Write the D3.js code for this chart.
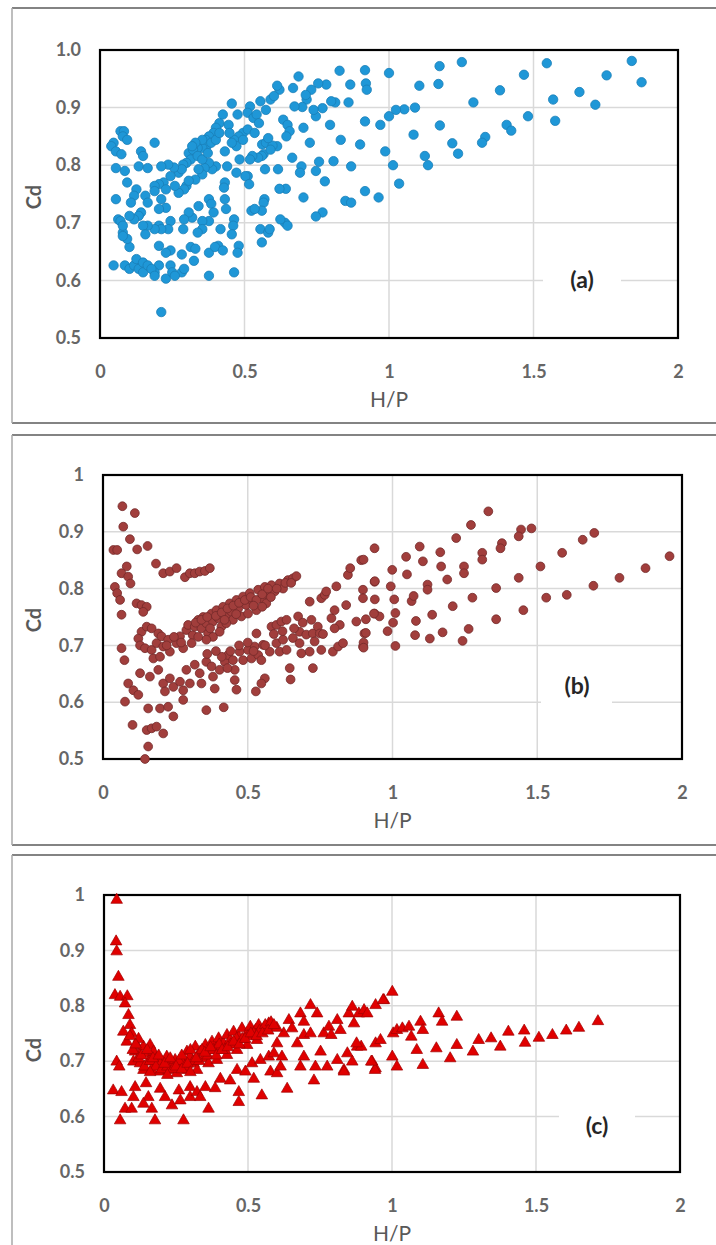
<!DOCTYPE html>
<html>
<head>
<meta charset="utf-8">
<script src="https://cdn.jsdelivr.net/npm/d3@7"></script>
<style>
  body { margin: 0; background: #fff; }
  svg { display: block; }
</style>
</head>
<body>
<div id="chart"></div>
<script>
// valeurs : H/P en x, Cd en y
var xTicks = [0, 0.5, 1, 1.5, 2];
var yTicks = [0.5, 0.6, 0.7, 0.8, 0.9, 1.0];
var panelLabels = ["(a)", "(b)", "(c)"];
var xTitle = "H/P";
var yTitle = "Cd";

var seriesA = [
  [1.84,0.981],[1.874,0.944],[1.753,0.956],[1.714,0.905],[1.659,0.927],[1.546,0.977],[1.568,0.914],[1.575,0.877],
  [1.467,0.957],[1.481,0.885],[1.384,0.93],[1.407,0.87],[1.423,0.86],[1.333,0.849],[1.322,0.839],[1.292,0.909],
  [1.252,0.979],[1.219,0.838],[1.239,0.82],[1.175,0.972],[1.171,0.941],[1.176,0.869],[1.135,0.80],[1.124,0.816],
  [1.105,0.938],[1.09,0.90],[1.085,0.853],[1.053,0.897],[1.024,0.896],[1.0,0.885],[0.97,0.87],[1.0,0.96],
  [0.987,0.824],[1.014,0.80],[1.035,0.768],[0.964,0.744],[0.917,0.755],[0.917,0.965],[0.92,0.942],[0.923,0.931],
  [0.917,0.876],[0.9,0.836],[0.869,0.798],[0.866,0.94],[0.86,0.909],[0.829,0.964],[0.833,0.844],[0.849,0.738],
  [0.869,0.735],[0.814,0.909],[0.80,0.911],[0.796,0.87],[0.808,0.807],[0.783,0.94],[0.755,0.942],[0.77,0.899],
  [0.747,0.885],[0.778,0.772],[0.758,0.806],[0.747,0.79],[0.77,0.718],[0.747,0.711],[0.726,0.839],[0.715,0.914],
  [0.731,0.931],[0.739,0.896],[0.712,0.922],[0.687,0.954],[0.70,0.901],[0.668,0.934],[0.673,0.902],[0.704,0.865],
  [0.697,0.798],[0.692,0.787],[0.704,0.744],[0.665,0.813],[0.643,0.759],[0.621,0.759],[0.616,0.793],[0.64,0.70],
  [0.624,0.706],[0.649,0.695],[0.634,0.879],[0.649,0.87],[0.656,0.859],[0.645,0.85],[0.613,0.833],[0.621,0.931],
  [0.613,0.938],[0.59,0.914],[0.602,0.92],[0.574,0.896],[0.555,0.911],[0.561,0.836],[0.574,0.839],[0.597,0.834],
  [0.571,0.793],[0.566,0.819],[0.56,0.816],[0.547,0.813],[0.569,0.741],[0.566,0.735],[0.56,0.721],[0.555,0.689],
  [0.56,0.666],[0.582,0.683],[0.587,0.689],[0.524,0.721],[0.535,0.724],[0.519,0.902],[0.511,0.891],[0.531,0.882],
  [0.542,0.888],[0.527,0.816],[0.519,0.81],[0.511,0.781],[0.503,0.781],[0.516,0.767],[0.476,0.888],[0.495,0.856],
  [0.48,0.85],[0.483,0.81],[0.464,0.844],[0.456,0.907],[0.472,0.833],[0.472,0.787],[0.48,0.66],[0.464,0.706],
  [0.461,0.695],[0.456,0.68],[0.464,0.614],[0.432,0.824],[0.44,0.798],[0.432,0.77],[0.429,0.761],[0.436,0.724],
  [0.417,0.689],[0.409,0.66],[0.425,0.888],[0.413,0.873],[0.401,0.865],[0.393,0.856],[0.377,0.85],[0.366,0.844],
  [0.369,0.833],[0.354,0.83],[0.338,0.83],[0.401,0.798],[0.388,0.793],[0.377,0.804],[0.362,0.795],[0.354,0.784],
  [0.341,0.793],[0.33,0.775],[0.377,0.741],[0.385,0.733],[0.393,0.718],[0.377,0.703],[0.354,0.703],[0.341,0.729],
  [0.377,0.648],[0.398,0.658],[0.377,0.608],[0.319,0.709],[0.307,0.718],[0.314,0.658],[0.33,0.655],[0.325,0.634],
  [0.291,0.706],[0.288,0.689],[0.283,0.614],[0.291,0.62],[0.307,0.821],[0.322,0.827],[0.314,0.81],[0.299,0.804],
  [0.288,0.801],[0.272,0.787],[0.283,0.793],[0.299,0.764],[0.307,0.773],[0.291,0.758],[0.272,0.752],[0.259,0.764],
  [0.256,0.796],[0.244,0.781],[0.236,0.801],[0.212,0.798],[0.22,0.77],[0.204,0.767],[0.189,0.764],[0.189,0.755],
  [0.228,0.758],[0.212,0.741],[0.228,0.726],[0.204,0.724],[0.244,0.703],[0.236,0.689],[0.204,0.695],[0.212,0.689],
  [0.189,0.689],[0.165,0.695],[0.204,0.66],[0.244,0.652],[0.228,0.648],[0.204,0.626],[0.189,0.614],[0.228,0.603],
  [0.244,0.626],[0.212,0.545],[0.189,0.839],[0.142,0.824],[0.149,0.816],[0.134,0.798],[0.165,0.795],[0.126,0.758],
  [0.157,0.747],[0.165,0.735],[0.142,0.718],[0.134,0.712],[0.118,0.747],[0.107,0.735],[0.118,0.706],[0.102,0.712],
  [0.149,0.695],[0.157,0.68],[0.102,0.658],[0.094,0.672],[0.079,0.683],[0.063,0.706],[0.071,0.703],[0.079,0.695],
  [0.079,0.677],[0.055,0.741],[0.094,0.77],[0.086,0.79],[0.055,0.795],[0.047,0.839],[0.039,0.833],[0.055,0.824],
  [0.074,0.819],[0.071,0.859],[0.083,0.859],[0.079,0.85],[0.094,0.844],[0.047,0.626],[0.086,0.626],[0.102,0.62],
  [0.118,0.626],[0.134,0.62],[0.126,0.637],[0.149,0.631],[0.149,0.614],[0.165,0.626],[0.178,0.62],[0.189,0.608],
  [0.25,0.614],[0.259,0.608],[0.283,0.645],[0.354,0.689],[0.338,0.683],[0.432,0.741],[0.425,0.652],[0.476,0.648],
  [0.354,0.844],[0.33,0.839],[0.319,0.833],[0.338,0.816],[0.354,0.81],[0.373,0.821],[0.385,0.839],[0.401,0.844],
  [0.413,0.856],[0.445,0.87],[0.448,0.856],[0.456,0.839],[0.495,0.844],[0.511,0.862],[0.535,0.856],[0.55,0.873],
  [0.582,0.847],[0.59,0.827]
];

var seriesB = [
  [0.067,0.945],[0.11,0.933],[0.07,0.909],[0.093,0.887],[0.118,0.869],[0.154,0.875],[0.036,0.868],[0.049,0.868],
  [0.082,0.839],[0.064,0.827],[0.087,0.821],[0.095,0.809],[0.041,0.803],[0.049,0.792],[0.059,0.78],[0.064,0.754],
  [0.116,0.774],[0.133,0.771],[0.151,0.768],[0.139,0.759],[0.183,0.844],[0.208,0.827],[0.231,0.83],[0.254,0.836],
  [0.283,0.82],[0.3,0.827],[0.317,0.827],[0.334,0.83],[0.352,0.831],[0.369,0.836],[0.064,0.695],[0.074,0.674],
  [0.128,0.651],[0.162,0.645],[0.087,0.633],[0.105,0.621],[0.122,0.613],[0.076,0.601],[0.156,0.589],[0.102,0.56],
  [0.151,0.551],[0.168,0.554],[0.185,0.557],[0.208,0.545],[0.156,0.522],[0.145,0.5],[0.197,0.589],[0.225,0.592],
  [0.243,0.575],[0.357,0.586],[0.417,0.591],
  [0.133,0.724],[0.151,0.733],[0.168,0.73],[0.191,0.721],[0.122,0.712],[0.128,0.7],[0.145,0.695],[0.168,0.692],
  [0.185,0.704],[0.202,0.716],[0.208,0.698],[0.225,0.71],[0.231,0.689],[0.254,0.704],[0.266,0.716],[0.277,0.695],
  [0.288,0.727],[0.294,0.736],[0.31,0.718],[0.317,0.733],[0.329,0.745],[0.34,0.73],[0.346,0.75],[0.357,0.739],
  [0.363,0.721],[0.375,0.756],[0.38,0.742],[0.392,0.762],[0.398,0.748],[0.409,0.733],[0.415,0.768],[0.424,0.753],
  [0.438,0.774],[0.444,0.759],[0.449,0.745],[0.461,0.78],[0.467,0.765],[0.478,0.751],[0.484,0.786],[0.495,0.771],
  [0.501,0.756],[0.507,0.792],[0.518,0.777],[0.53,0.762],[0.536,0.798],[0.547,0.783],[0.559,0.803],[0.57,0.789],
  [0.582,0.806],[0.593,0.795],[0.61,0.809],[0.622,0.8],[0.639,0.815],[0.656,0.818],[0.668,0.822],[0.564,0.774],
  [0.55,0.768],[0.426,0.739],[0.403,0.724],[0.38,0.715],[0.357,0.71],[0.329,0.715],[0.306,0.704],
  [0.32,0.74],[0.34,0.745],[0.36,0.75],[0.39,0.752],[0.41,0.758],[0.43,0.765],[0.45,0.77],[0.47,0.775],
  [0.49,0.78],[0.51,0.785],[0.53,0.78],[0.55,0.79],[0.57,0.8],[0.6,0.8],[0.63,0.81],[0.65,0.81],
  [0.37,0.73],[0.42,0.745],[0.46,0.755],[0.52,0.77],[0.58,0.785],[0.27,0.705],[0.245,0.715],[0.22,0.7],
  [0.174,0.677],[0.197,0.68],[0.191,0.657],[0.208,0.633],[0.231,0.642],[0.214,0.619],[0.243,0.627],[0.266,0.636],
  [0.277,0.621],[0.277,0.604],[0.288,0.657],[0.3,0.633],[0.317,0.666],[0.334,0.651],[0.34,0.633],[0.357,0.671],
  [0.375,0.663],[0.38,0.645],[0.386,0.624],[0.403,0.657],[0.421,0.671],[0.432,0.683],[0.449,0.674],[0.455,0.657],
  [0.455,0.639],[0.461,0.622],[0.472,0.689],[0.484,0.674],[0.501,0.692],[0.513,0.677],[0.524,0.698],[0.53,0.721],
  [0.536,0.683],[0.547,0.674],[0.553,0.701],[0.559,0.642],[0.547,0.633],[0.528,0.619],[0.576,0.689],[0.582,0.733],
  [0.599,0.736],[0.616,0.742],[0.634,0.745],[0.599,0.704],[0.61,0.689],[0.622,0.71],[0.634,0.692],[0.645,0.66],
  [0.648,0.64],[0.656,0.713],[0.674,0.751],[0.679,0.724],[0.679,0.704],[0.685,0.686],[0.702,0.719],[0.714,0.689],
  [0.725,0.66],[0.714,0.777],[0.725,0.721],[0.731,0.707],[0.742,0.733],[0.749,0.721],[0.754,0.783],[0.766,0.789],
  [0.754,0.692],[0.771,0.795],[0.789,0.748],[0.8,0.762],[0.806,0.804],[0.818,0.736],[0.794,0.689],[0.812,0.698],
  [0.829,0.704],[0.84,0.771],[0.846,0.824],[0.854,0.836],[0.875,0.742],[0.892,0.85],[0.898,0.798],[0.898,0.783],
  [0.903,0.721],[0.898,0.698],[0.938,0.871],[0.938,0.812],[0.938,0.756],
  [0.44,0.69],[0.47,0.7],[0.5,0.705],[0.52,0.69],[0.56,0.7],[0.59,0.72],[0.62,0.725],[0.66,0.73],
  [0.69,0.74],[0.72,0.745],[0.76,0.72],[0.8,0.73],[0.41,0.68],[0.39,0.69],[0.43,0.66],[0.36,0.685],
  [1.331,0.936],[1.271,0.912],[1.22,0.889],[1.165,0.864],[1.094,0.874],[1.047,0.856],[0.999,0.833],[0.9,0.851],
  [1.444,0.904],[1.48,0.906],[1.436,0.892],[1.378,0.88],[1.373,0.871],[1.31,0.863],[1.31,0.851],[1.247,0.839],
  [1.247,0.827],[1.358,0.801],[1.276,0.784],[1.697,0.898],[1.657,0.886],[1.586,0.863],[1.511,0.839],[1.436,0.819],
  [1.957,0.857],[1.874,0.836],[1.784,0.819],[1.694,0.805],[1.602,0.789],[1.531,0.784],[1.452,0.762],[1.358,0.746],
  [1.263,0.729],[1.242,0.708],[1.208,0.769],[1.189,0.816],[1.168,0.839],[1.137,0.754],[1.173,0.723],[1.129,0.712],
  [1.081,0.743],[1.078,0.718],[1.121,0.807],[1.121,0.798],[1.105,0.848],[1.066,0.778],[1.073,0.787],[1.05,0.825],
  [1.006,0.781],[1.01,0.757],[1.002,0.74],[1.01,0.699],[0.983,0.725],[0.994,0.804],[0.939,0.813],[0.939,0.781],
  [0.955,0.751],[0.936,0.756],[0.908,0.722],[0.9,0.705],[0.9,0.696],[0.908,0.746]
];

var seriesC = [
  [0.044,0.991],[0.042,0.916],[0.044,0.898],[0.05,0.852],[0.038,0.819],[0.056,0.816],[0.081,0.817],[0.073,0.804],
  [0.085,0.783],[0.09,0.765],[0.067,0.753],[0.096,0.75],[0.079,0.735],[0.114,0.729],[0.137,0.726],[0.16,0.729],
  [0.108,0.717],[0.125,0.711],[0.148,0.714],[0.172,0.717],[0.102,0.699],[0.125,0.696],[0.154,0.699],[0.183,0.705],
  [0.2,0.699],[0.218,0.708],[0.23,0.696],[0.247,0.702],[0.258,0.69],[0.276,0.699],[0.288,0.717],[0.299,0.708],
  [0.311,0.696],[0.317,0.726],[0.334,0.717],[0.346,0.705],[0.352,0.729],[0.369,0.72],[0.375,0.735],[0.392,0.726],
  [0.398,0.741],[0.415,0.732],[0.427,0.747],[0.438,0.738],[0.45,0.753],[0.468,0.744],[0.479,0.759],[0.497,0.75],
  [0.508,0.762],[0.526,0.756],[0.537,0.765],[0.555,0.759],[0.572,0.768],[0.584,0.762],[0.137,0.684],[0.166,0.684],
  [0.195,0.681],[0.224,0.684],[0.253,0.678],[0.288,0.684],[0.323,0.684],[0.363,0.696],[0.392,0.702],[0.427,0.711],
  [0.462,0.72],[0.497,0.729],[0.531,0.738],[0.044,0.699],[0.053,0.69],[0.032,0.647],[0.061,0.644],[0.108,0.653],
  [0.102,0.635],[0.073,0.614],[0.096,0.614],[0.056,0.593],[0.146,0.66],[0.154,0.635],[0.137,0.623],[0.166,0.614],
  [0.177,0.593],[0.195,0.65],[0.212,0.635],[0.236,0.62],[0.26,0.647],[0.265,0.629],[0.276,0.593],[0.299,0.653],
  [0.299,0.635],[0.323,0.644],[0.334,0.635],[0.352,0.653],[0.363,0.614],[0.386,0.651],[0.404,0.668],[0.438,0.665],
  [0.468,0.644],[0.468,0.626],[0.462,0.684],[0.491,0.681],[0.52,0.668],[0.548,0.638],[0.514,0.696],[0.543,0.702],
  [0.572,0.708],[0.578,0.681],[0.601,0.678],[0.613,0.69],[0.59,0.714],[0.601,0.732],[0.624,0.75],[0.618,0.708],
  [0.636,0.65],[0.642,0.774],[0.653,0.759],[0.671,0.732],[0.682,0.786],[0.694,0.771],[0.694,0.747],[0.694,0.708],
  [0.682,0.69],[0.717,0.801],[0.74,0.786],[0.717,0.75],[0.729,0.665],[0.734,0.69],[0.752,0.717],[0.763,0.75],
  [0.781,0.762],[0.775,0.69],[0.789,0.747],[0.81,0.774],[0.81,0.702],[0.821,0.756],[0.833,0.684],[0.845,0.714],
  [0.85,0.786],[0.862,0.798],[0.868,0.768],[0.879,0.726],[0.885,0.786],[0.903,0.792],[0.914,0.786],[0.943,0.801],
  [0.972,0.81],[0.931,0.699],[0.943,0.687],[0.943,0.732],[0.96,0.738],[1.001,0.825],[0.969,0.81],[1.004,0.75],
  [1.017,0.756],[1.036,0.759],[1.001,0.708],[1.017,0.69],[1.059,0.762],[1.067,0.744],[1.099,0.771],[1.107,0.756],
  [1.086,0.72],[1.107,0.693],[1.162,0.786],[1.174,0.771],[1.154,0.723],[1.202,0.705],[1.225,0.78],[1.225,0.729],
  [1.281,0.717],[1.301,0.738],[1.344,0.741],[1.376,0.726],[1.404,0.753],[1.459,0.755],[1.462,0.733],[1.51,0.742],
  [1.557,0.747],[1.605,0.755],[1.649,0.76],[1.715,0.772],[0.941,0.684],[0.928,0.699],[0.893,0.726],[0.877,0.732],
  [0.833,0.681],[0.862,0.699],
  [0.12,0.705],[0.14,0.69],[0.16,0.7],[0.18,0.69],[0.2,0.685],[0.22,0.69],[0.24,0.686],[0.26,0.7],[0.27,0.71],
  [0.28,0.69],[0.3,0.72],[0.31,0.7],[0.33,0.7],[0.34,0.72],[0.36,0.71],[0.38,0.72],[0.4,0.73],[0.42,0.72],
  [0.44,0.73],[0.46,0.74],[0.48,0.74],[0.5,0.745],[0.52,0.75],[0.54,0.755],[0.56,0.765],[0.58,0.77],[0.6,0.76],
  [0.1,0.72],[0.12,0.74],[0.13,0.71],
  [0.15,0.72],[0.17,0.705],[0.19,0.71],[0.21,0.695],[0.23,0.705],[0.25,0.69],[0.27,0.685],[0.29,0.695],
  [0.32,0.705],[0.35,0.715],[0.37,0.725],[0.39,0.71],[0.41,0.72],[0.43,0.725],[0.45,0.735],[0.47,0.73],
  [0.49,0.74],[0.51,0.75],[0.53,0.745],[0.55,0.75],[0.57,0.755],[0.59,0.765],[0.11,0.73],[0.09,0.745],
  [0.16,0.68],[0.22,0.675],[0.3,0.68]
];

var W = 716, H = 1245;
var font = "Lato, 'Open Sans', sans-serif";

var svg = d3.select("#chart").append("svg")
    .attr("width", W)
    .attr("height", H);

svg.append("rect").attr("width", W).attr("height", H).attr("fill", "#fff");

// mise en page des trois panneaux
var panels = [
  { data: seriesA, label: panelLabels[0], frameTop: 8, frameBottom: 423,
    plot: { left: 100, right: 678, top: 50, bottom: 338 }, yFmt: d3.format(".1f"),
    marker: "circle", r: 4.7, fill: "#1f97d7", stroke: "#1a7fb8",
    tag: { x: 582, y: 280, boxX: 543, boxW: 78 }, cdY: 197 },
  { data: seriesB, label: panelLabels[1], frameTop: 435, frameBottom: 845,
    plot: { left: 103, right: 682, top: 475, bottom: 759 }, yFmt: d3.format(""),
    marker: "circle", r: 4.4, fill: "#a13e3c", stroke: "#742a2a",
    tag: { x: 577, y: 686, boxX: 541, boxW: 71 }, cdY: 620 },
  { data: seriesC, label: panelLabels[2], frameTop: 855, frameBottom: 1262,
    plot: { left: 104, right: 680, top: 895, bottom: 1172 }, yFmt: d3.format(""),
    marker: "triangle", size: 58, fill: "#e00000", stroke: "#a00000",
    tag: { x: 597, y: 1126, boxX: 559, boxW: 76 }, cdY: 1050 }
];

panels.forEach(function(p) {
  var g = svg.append("g");

  // cadre gris autour du panneau
  g.append("line").attr("x1", 12).attr("x2", W + 5).attr("y1", p.frameTop).attr("y2", p.frameTop)
    .attr("stroke", "#5a5a5a").attr("stroke-width", 1.5);
  g.append("line").attr("x1", 12).attr("x2", W + 5).attr("y1", p.frameBottom).attr("y2", p.frameBottom)
    .attr("stroke", "#5a5a5a").attr("stroke-width", 1.5);
  g.append("line").attr("x1", 12).attr("x2", 12).attr("y1", p.frameTop).attr("y2", p.frameBottom)
    .attr("stroke", "#a8a8a8").attr("stroke-width", 1.5);

  var x = d3.scaleLinear().domain([0, 2]).range([p.plot.left, p.plot.right]);
  var y = d3.scaleLinear().domain([0.5, 1]).range([p.plot.bottom, p.plot.top]);

  // grille
  g.append("g").selectAll("line")
    .data(xTicks.slice(1, -1))
    .enter().append("line")
      .attr("x1", function(d) { return x(d); })
      .attr("x2", function(d) { return x(d); })
      .attr("y1", y(1)).attr("y2", y(0.5))
      .attr("stroke", "#d9d9d9").attr("stroke-width", 1.5);
  g.append("g").selectAll("line")
    .data(yTicks.slice(1, -1))
    .enter().append("line")
      .attr("x1", x(0)).attr("x2", x(2))
      .attr("y1", function(d) { return y(d); })
      .attr("y2", function(d) { return y(d); })
      .attr("stroke", "#d9d9d9").attr("stroke-width", 1.5);

  // étiquette (a)/(b)/(c) sur fond blanc
  var top = Math.min(p.tag.y - 14, y(0.6) - 3), bot = Math.max(p.tag.y + 14, y(0.6) + 3);
  g.append("rect")
    .attr("x", p.tag.boxX).attr("width", p.tag.boxW)
    .attr("y", top).attr("height", bot - top)
    .attr("fill", "#fff");
  g.append("text")
    .attr("x", p.tag.x).attr("y", p.tag.y).attr("dy", "0.35em")
    .attr("text-anchor", "middle")
    .attr("font-family", font).attr("font-weight", "bold").attr("font-size", 23)
    .attr("fill", "#262626")
    .text(p.label);

  // cadre noir de la zone de tracé
  g.append("rect")
    .attr("x", x(0)).attr("y", y(1))
    .attr("width", x(2) - x(0)).attr("height", y(0.5) - y(1))
    .attr("fill", "none").attr("stroke", "#000").attr("stroke-width", 2.2);

  // points
  if (p.marker === "circle") {
    g.append("g").selectAll("circle")
      .data(p.data)
      .enter().append("circle")
        .attr("cx", function(d) { return x(d[0]); })
        .attr("cy", function(d) { return y(d[1]); })
        .attr("r", p.r)
        .attr("fill", p.fill)
        .attr("stroke", p.stroke)
        .attr("stroke-width", 0.8);
  } else {
    var tri = d3.symbol().type(d3.symbolTriangle).size(p.size);
    g.append("g").selectAll("path")
      .data(p.data)
      .enter().append("path")
        .attr("d", tri)
        .attr("transform", function(d) { return "translate(" + x(d[0]) + "," + y(d[1]) + ")"; })
        .attr("fill", p.fill)
        .attr("stroke", p.stroke)
        .attr("stroke-width", 0.7);
  }

  // axes
  var ay = g.append("g")
    .attr("transform", "translate(" + x(0) + ",0)")
    .call(d3.axisLeft(y).tickValues(yTicks).tickSize(0).tickPadding(19).tickFormat(p.yFmt));
  var ax = g.append("g")
    .attr("transform", "translate(0," + y(0.5) + ")")
    .call(d3.axisBottom(x).tickValues(xTicks).tickSize(0).tickFormat(d3.format("")));
  [ax, ay].forEach(function(a) {
    a.select(".domain").remove();
    a.attr("font-family", font).attr("font-size", 18).attr("font-weight", "bold");
    a.selectAll("text").attr("fill", "#666");
  });
  ax.selectAll("text").attr("y", 34).attr("dy", "0.35em");

  // titres
  g.append("text")
    .attr("x", x(1)).attr("y", y(0.5) + 62).attr("dy", "0.35em")
    .attr("text-anchor", "middle")
    .attr("font-family", font).attr("font-size", 21).attr("fill", "#595959")
    .text(xTitle);
  g.append("text")
    .attr("transform", "translate(34," + p.cdY + ") rotate(-90)")
    .attr("dy", "0.35em")
    .attr("text-anchor", "middle")
    .attr("font-family", font).attr("font-weight", "bold").attr("font-size", 20).attr("fill", "#595959")
    .text(yTitle);
});
</script>
</body>
</html>
